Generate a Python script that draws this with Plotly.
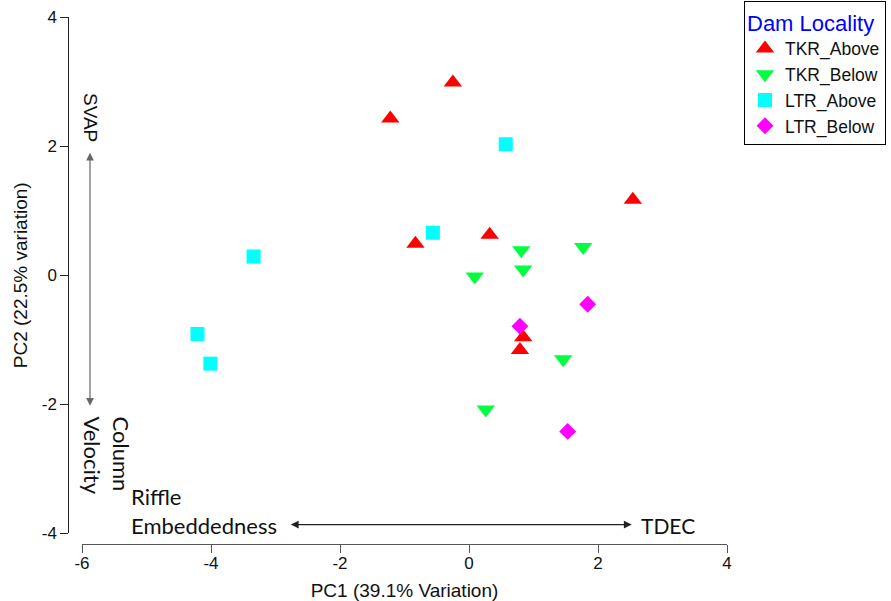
import plotly.graph_objects as go

# ---- data ----
tkr_above_x = [-1.22, -0.25, -0.83, 0.32, 2.54, 0.84, 0.79]
tkr_above_y = [2.43, 2.99, 0.49, 0.63, 1.17, -0.96, -1.16]
tkr_below_x = [0.09, 0.81, 0.84, 1.77, 1.46, 0.26]
tkr_below_y = [-0.02, 0.39, 0.09, 0.44, -1.30, -2.08]
ltr_above_x = [0.57, -0.56, -3.34, -4.21, -4.01]
ltr_above_y = [2.03, 0.66, 0.29, -0.91, -1.37]
ltr_below_x = [1.84, 0.79, 1.53]
ltr_below_y = [-0.45, -0.79, -2.42]

x_ticks = [-6, -4, -2, 0, 2, 4]
x_tick_labels = ["-6", "-4", "-2", "0", "2", "4"]
y_ticks = [-4, -2, 0, 2, 4]
y_tick_labels = ["-4", "-2", "0", "2", "4"]

W, H = 891, 601


def px(x):
    return x / W


def py(y):
    return 1 - y / H


fig = go.Figure()
fig.add_trace(go.Scatter(x=tkr_above_x, y=tkr_above_y, mode="markers", name="TKR_Above",
                         marker=dict(symbol="triangle-up", size=16, color="#FF0000")))
fig.add_trace(go.Scatter(x=tkr_below_x, y=tkr_below_y, mode="markers", name="TKR_Below",
                         marker=dict(symbol="triangle-down", size=16, color="#00FF40")))
fig.add_trace(go.Scatter(x=ltr_above_x, y=ltr_above_y, mode="markers", name="LTR_Above",
                         marker=dict(symbol="square", size=14, color="#00FFFF")))
fig.add_trace(go.Scatter(x=ltr_below_x, y=ltr_below_y, mode="markers", name="LTR_Below",
                         marker=dict(symbol="diamond", size=13, color="#FF00FF")))

axis_font = dict(family="Arial, Liberation Sans", size=17, color="#111")

fig.update_layout(
    width=W, height=H,
    margin=dict(l=0, r=0, t=0, b=0),
    paper_bgcolor="white", plot_bgcolor="white",
    font=dict(family="Arial, Liberation Sans", color="#111"),
    xaxis=dict(range=[-6, 4], domain=[px(82), px(727)], anchor="free", position=py(543.7),
               showline=True, linecolor="#555", linewidth=1, ticks="outside", ticklen=8,
               tickcolor="#555", tickvals=x_ticks, ticktext=x_tick_labels, tickfont=axis_font,
               ticklabelstandoff=-4,
               showgrid=False, zeroline=False, automargin=False,
               title=dict(text="PC1 (39.1% Variation)", font=dict(size=19), standoff=12)),
    yaxis=dict(range=[-4, 4], domain=[py(533.3), py(17.3)], anchor="free", position=px(68.3),
               showline=True, linecolor="#222", linewidth=1, ticks="outside", ticklen=8,
               tickcolor="#222", tickvals=y_ticks, ticktext=y_tick_labels, tickfont=axis_font,
               showgrid=False, zeroline=False, automargin=False,
               title=dict(text="PC2 (22.5% variation)", font=dict(size=19), standoff=8)),
    legend=dict(x=px(744), y=py(1), xanchor="left", yanchor="top",
                bordercolor="black", borderwidth=1, bgcolor="white",
                font=dict(family="Arial, Liberation Sans", size=17.5, color="#111"),
                title=dict(text="Dam Locality", font=dict(size=22, color="#0000FF")),
                tracegroupgap=0, itemsizing="trace"),
    showlegend=True,
)

# arrows (bidirectional)
fig.add_annotation(x=-5.876, y=1.90, ax=-5.876, ay=-2.047, xref="x", yref="y", axref="x", ayref="y",
                   text="", showarrow=True, arrowside="end+start", arrowhead=2, arrowsize=1.3,
                   arrowwidth=1.2, arrowcolor="#666", standoff=0, startstandoff=0)
fig.add_annotation(x=2.522, y=-3.864, ax=-2.786, ay=-3.864, xref="x", yref="y", axref="x", ayref="y",
                   text="", showarrow=True, arrowside="end+start", arrowhead=2, arrowsize=1.3,
                   arrowwidth=1.2, arrowcolor="#222", standoff=0, startstandoff=0)

cal = dict(family="Lato, Carlito, sans-serif", size=22, color="#111")
fig.add_annotation(x=px(91), y=py(117), xref="paper", yref="paper", text="SVAP", showarrow=False,
                   textangle=90, font=dict(family="Arial, Liberation Sans", size=19, color="#111"),
                   xanchor="center", yanchor="middle")
fig.add_annotation(x=px(107), y=py(455.5), xref="paper", yref="paper", text="Column<br>Velocity",
                   showarrow=False, textangle=90, font=cal, align="left",
                   xanchor="center", yanchor="middle")
fig.add_annotation(x=px(129), y=py(511), xref="paper", yref="paper", text="Riffle<br>Embeddedness",
                   showarrow=False, font=cal, align="left", xanchor="left", yanchor="middle")
fig.add_annotation(x=px(639), y=py(525.5), xref="paper", yref="paper", text="TDEC",
                   showarrow=False, font=dict(family="Lato, Carlito, sans-serif", size=21, color="#111"),
                   xanchor="left", yanchor="middle")

fig.write_html("out.html", config={"displayModeBar": False},
               post_script="document.body.style.margin='0px';document.body.style.overflow='hidden';")
